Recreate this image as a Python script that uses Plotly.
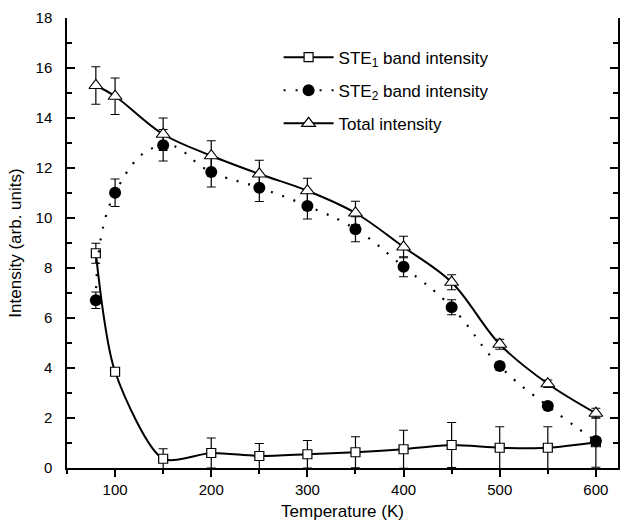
import plotly.graph_objects as go

# ---- data ----
temperature = [80, 100, 150, 200, 250, 300, 350, 400, 450, 500, 550, 600]

ste1 = [8.59, 3.85, 0.37, 0.60, 0.48, 0.55, 0.63, 0.75, 0.92, 0.81, 0.81, 1.03]
ste1_err = [0.40, 0.10, 0.40, 0.60, 0.50, 0.55, 0.62, 0.76, 0.90, 0.84, 0.84, 1.00]

ste2 = [6.71, 11.01, 12.91, 11.84, 11.21, 10.48, 9.55, 8.05, 6.43, 4.08, 2.48, 1.08]
ste2_err = [0.33, 0.55, 0.63, 0.60, 0.55, 0.52, 0.50, 0.40, 0.30, 0.15, 0.12, 0.10]

total = [15.30, 14.87, 13.35, 12.49, 11.76, 11.09, 10.20, 8.84, 7.43, 4.95, 3.37, 2.19]
total_err = [0.75, 0.73, 0.65, 0.60, 0.55, 0.50, 0.47, 0.43, 0.30, 0.20, 0.15, 0.20]

names = ["STE<sub>1</sub> band intensity", "STE<sub>2</sub> band intensity", "Total intensity"]

x_range = [50, 623]
y_range = [0, 18]

FONT = "Arial, Liberation Sans, sans-serif"

fig = go.Figure()

err_style = dict(type="data", visible=True, color="black", thickness=1.2, width=4.5)

fig.add_trace(go.Scatter(
    x=temperature, y=ste1, name=names[0], mode="lines+markers", legendgroup="g1",
    line=dict(color="black", width=2, shape="spline", smoothing=0.75),
    marker=dict(symbol="square", size=9, color="white", line=dict(color="black", width=1.2)),
    error_y=dict(array=ste1_err, **err_style),
))
fig.add_trace(go.Scatter(
    x=temperature, y=ste2, name=names[1], mode="lines+markers", legendgroup="g2",
    line=dict(color="black", width=2.2, shape="spline", smoothing=1.3, dash="2px,10px"),
    marker=dict(symbol="circle", size=12, color="black", line=dict(color="black", width=0)),
    error_y=dict(array=ste2_err, **err_style),
))
fig.add_trace(go.Scatter(
    x=temperature, y=total, name=names[2], mode="lines+markers", legendgroup="g3",
    line=dict(color="black", width=2, shape="spline", smoothing=1.0),
    marker=dict(symbol="triangle-up", size=12, color="white", line=dict(color="black", width=1.2)),
    error_y=dict(array=total_err, **err_style),
))

fig.update_layout(
    width=624, height=526,
    margin=dict(l=67, r=4, t=18, b=58),
    paper_bgcolor="white", plot_bgcolor="white",
    font=dict(family=FONT, size=15, color="black"),
    showlegend=True,
    legend=dict(x=0.384, y=0.952, xanchor="left", yanchor="top",
                bgcolor="rgba(0,0,0,0)", font=dict(size=17, family=FONT, color="black"),
                itemwidth=50, tracegroupgap=8),
    xaxis=dict(
        range=x_range, showgrid=False, zeroline=False,
        showline=True, linecolor="black", linewidth=1.5, mirror=False,
        ticks="outside", ticklen=7, tickwidth=1.5, tickcolor="black",
        tick0=0, dtick=100,
        minor=dict(ticks="outside", ticklen=4, tickwidth=1.5, tickcolor="black", dtick=50),
        title=dict(text="Temperature (K)", font=dict(size=17), standoff=8),
        tickfont=dict(size=15),
    ),
    xaxis2=dict(
        range=x_range, overlaying="x", side="top", anchor="y",
        showgrid=False, zeroline=False, showticklabels=False,
        showline=True, linecolor="black", linewidth=1.5,
        ticks="inside", ticklen=7, tickwidth=1.5, tickcolor="black",
        tick0=0, dtick=100,
        minor=dict(ticks="inside", ticklen=4, tickwidth=1.5, tickcolor="black", dtick=50),
    ),
    yaxis=dict(
        range=y_range, showgrid=False, zeroline=False,
        showline=True, linecolor="black", linewidth=1.5, mirror="ticks",
        ticks="inside", ticklen=8, tickwidth=1.5, tickcolor="black",
        tick0=0, dtick=2, ticklabelstandoff=10,
        minor=dict(ticks="inside", ticklen=5, tickwidth=1.5, tickcolor="black", dtick=1),
        title=dict(text="Intensity (arb. units)", font=dict(size=17), standoff=10),
        tickfont=dict(size=15),
    ),
)

fig.write_html("out.html")
